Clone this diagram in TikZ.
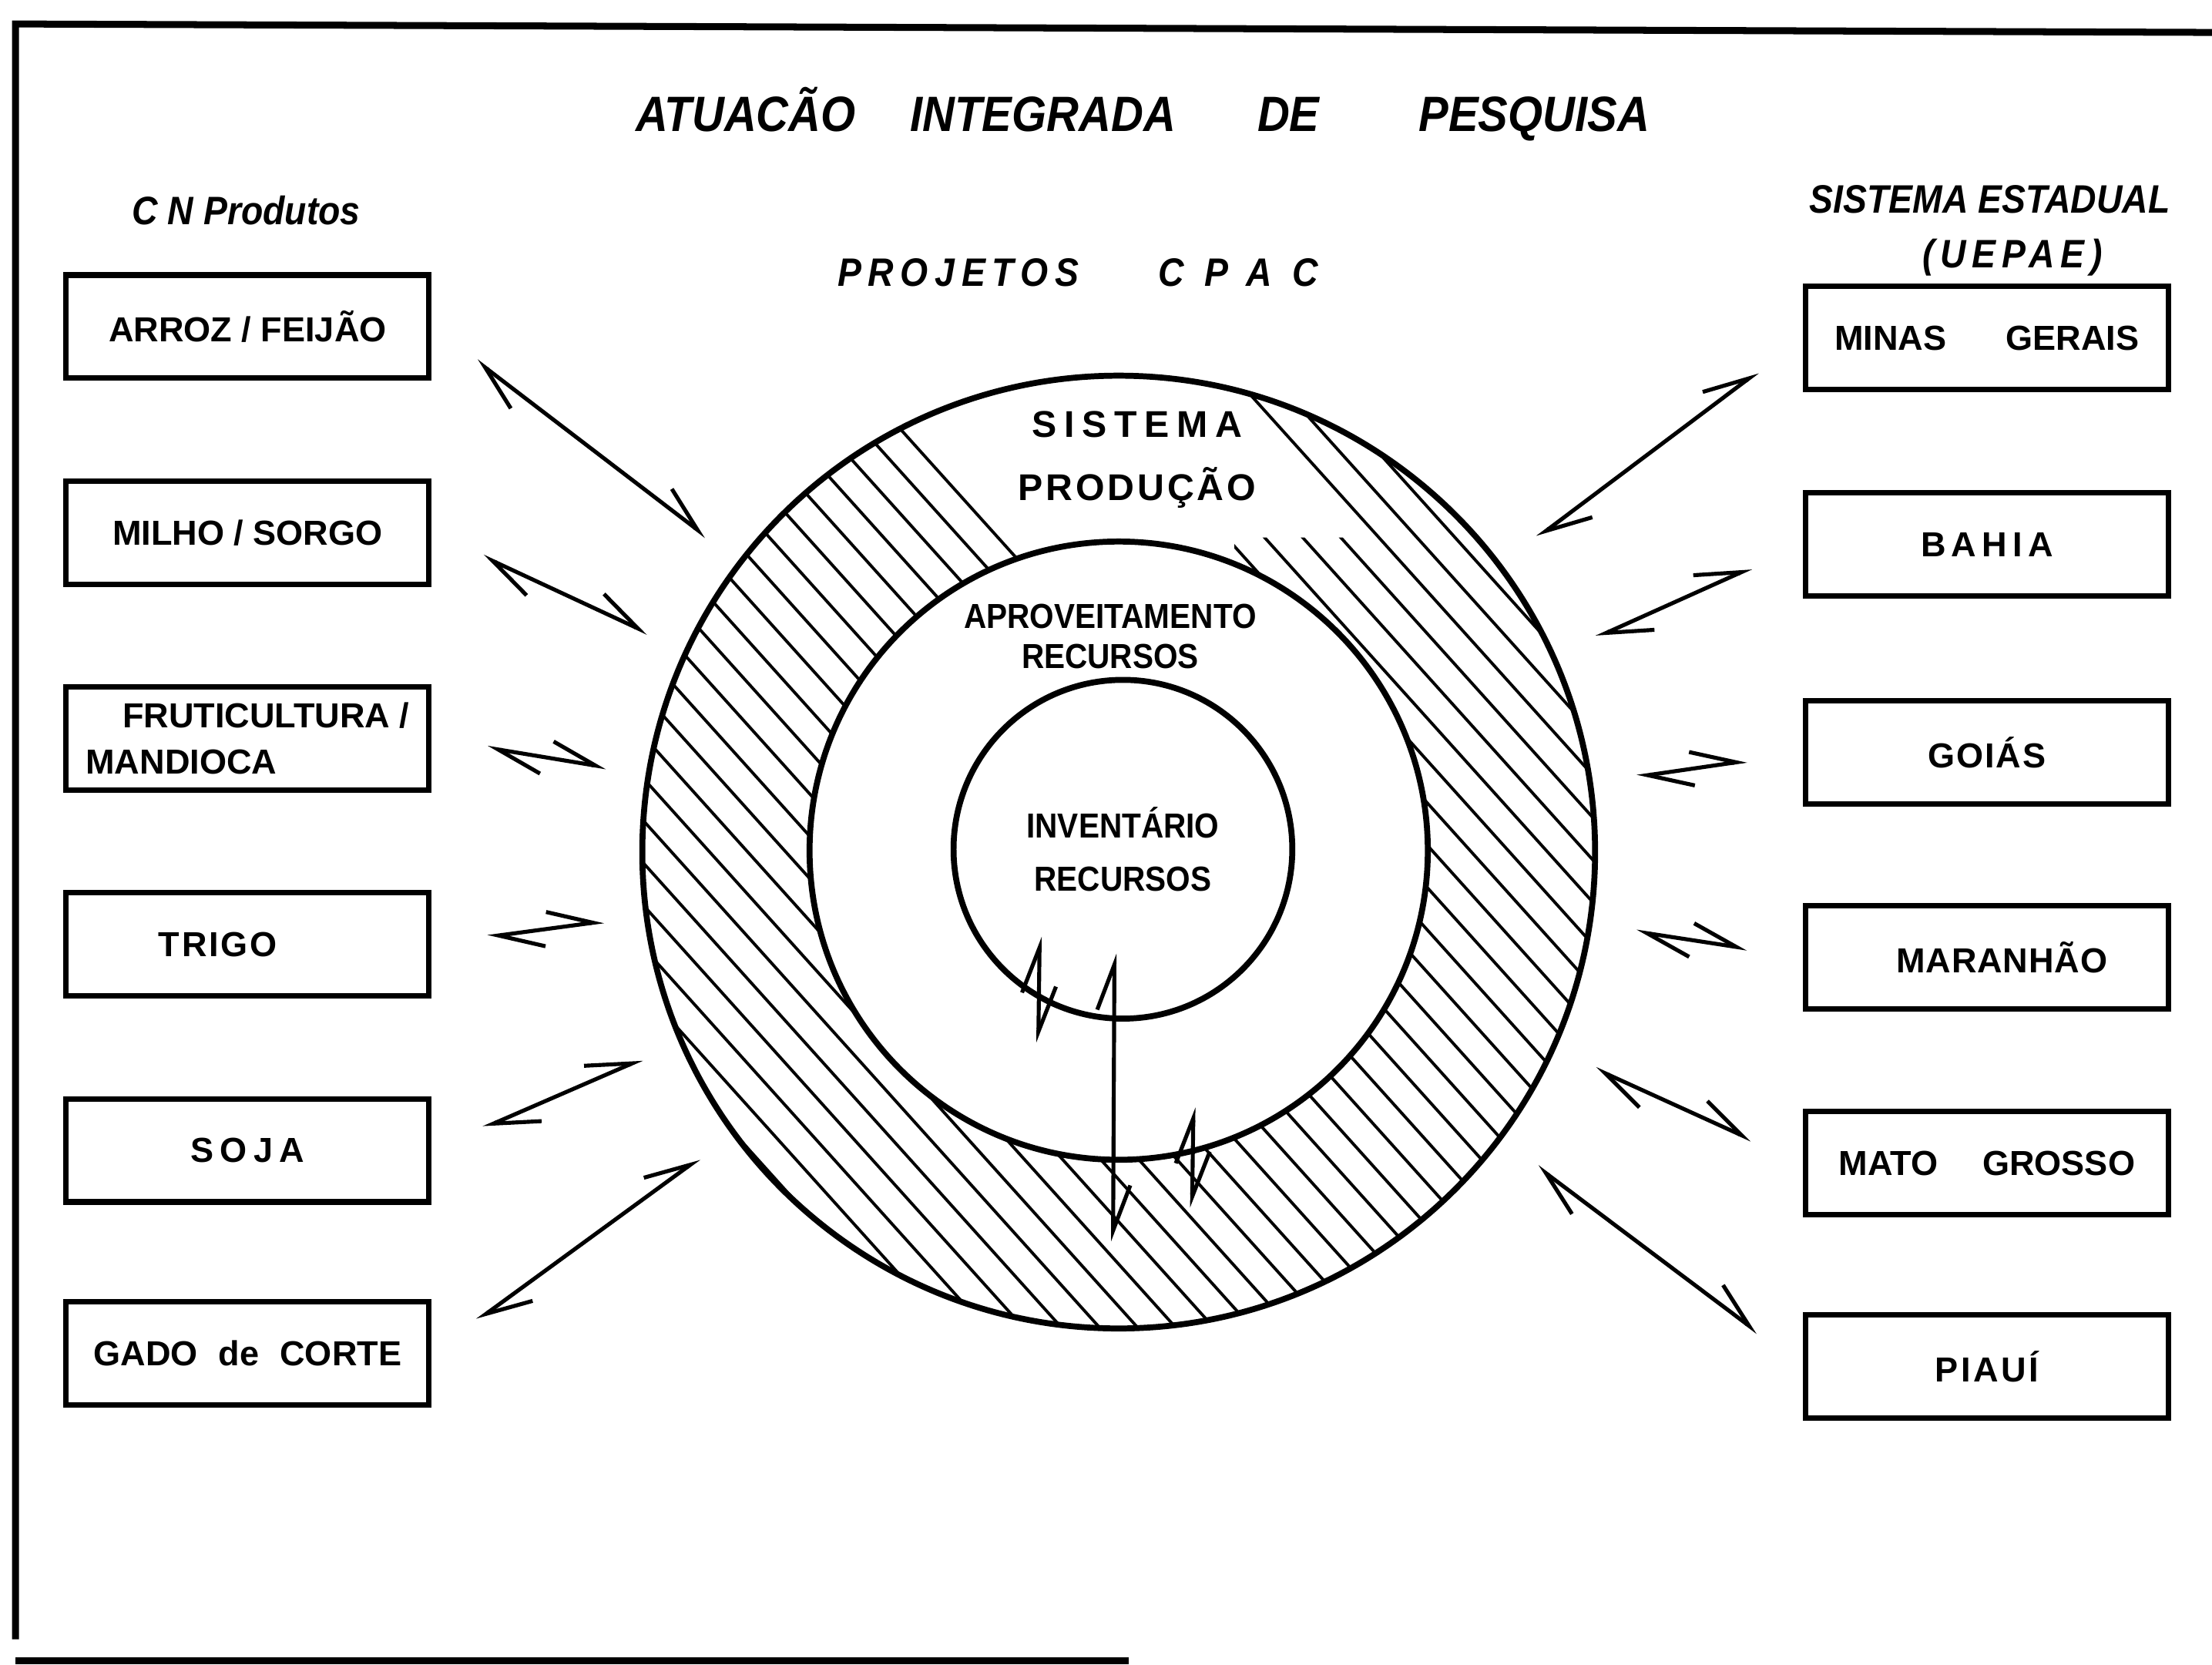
\documentclass[tikz,border=0pt]{standalone}
\usepackage{fontspec}
\setmainfont{Liberation Sans}
\newfontfamily\narrowfont[FakeStretch=0.9]{Liberation Sans}
\usepackage{tikz}
\usetikzlibrary{arrows.meta}
\newcommand\tracked[2]{{\addfontfeature{LetterSpace=#1}#2}}

\begin{document}
\begin{tikzpicture}[
  x=0.01cm, y=-0.01cm,
  font=\fontsize{7}{9}\selectfont\bfseries,
  unitBox/.style={draw, line width=1.1pt, minimum width=2.57cm,
                  minimum height=0.73cm, inner sep=0pt, align=center},
  ring/.style={draw, circle, line width=1.2pt, inner sep=0pt},
  ttl/.style={inner sep=0pt, font=\narrowfont\fontsize{8}{10}\selectfont\bfseries\itshape},
  lbl/.style={inner sep=0pt, align=center},
  harr/.style={{Straight Barb[harpoon,length=3.2mm,width=2.4mm]}-{Straight Barb[harpoon,length=3.2mm,width=2.4mm]},
               line width=0.8pt},
  hatch/.style={line width=0.6pt},
  frame/.style={line width=1.4pt},
]
\useasboundingbox (0,0) rectangle (1568,1180);

\draw[frame] (1568,23) -- (11,17) -- (11,1162);
\draw[frame] (11,1177) -- (800,1177);

\node[inner sep=0pt, anchor=base west,
      font=\narrowfont\fontsize{10}{12}\selectfont\bfseries\itshape] (title) at (450,93)
  {ATUACÃO\hspace{11pt}INTEGRADA\hspace{16.5pt}DE\hspace{20pt}PESQUISA};
\node[ttl, anchor=base west] (cnlbl) at (93,159) {C N Produtos};
\node[ttl, anchor=base west] (selbl) at (1282,151) {SISTEMA ESTADUAL};
\node[ttl, anchor=base west] (uepae) at (1362,190) {\tracked{15}{(UEPAE)}};
\node[ttl, anchor=base west] (cpac) at (593,203) {\tracked{17}{PROJETOS}\hspace{16pt}\tracked{52}{CPAC}};

% produtos
\node[unitBox] (arroz) at (175.5,231.5) {ARROZ / FEIJÃO};
\node[unitBox] (milho) at (175.5,377.5) {MILHO / SORGO};
\node[unitBox, align=left, font=\fontsize{7}{9.4}\selectfont\bfseries] (fruti) at (175.5,523.5)
  {\hspace*{7.4pt}FRUTICULTURA /\\MANDIOCA};
\node[unitBox] (trigo) at (175.5,669.5) {\tracked{6}{TRIGO}\hspace*{12pt}};
\node[unitBox] (soja) at (175.5,815.5) {\tracked{18}{SOJA}};
\node[unitBox] (gado) at (175.5,959.5) {GADO\hspace{0.6em}de\hspace{0.6em}CORTE};

% estados
\node[unitBox] (minas) at (1408.5,239.5) {MINAS\hspace{12pt}GERAIS};
\node[unitBox] (bahia) at (1408.5,386) {\tracked{16}{BAHIA}};
\node[unitBox] (goias) at (1408.5,533.5) {\tracked{4}{GOIÁS}};
\node[unitBox] (maranhao) at (1408.5,678.5) {\hspace*{6pt}\tracked{2}{MARANHÃO}};
\node[unitBox] (mato) at (1408.5,824.5) {MATO\hspace{9pt}GROSSO};
\node[unitBox] (piaui) at (1408.5,968.5) {\tracked{8}{PIAUÍ}};

% circulos
\node[ring, minimum size=6.75cm] (outer) at (793,604) {};
\node[ring, minimum size=4.38cm] (mid) at (793,603) {};
\node[ring, minimum size=2.4cm, align=center, font=\narrowfont\fontsize{7}{10.8}\selectfont\bfseries] (inv) at (796,602)
  {INVENTÁRIO\\RECURSOS};

\begin{scope}
  \clip (outer.center) circle (3.375cm);
  \begin{scope}[even odd rule]
    \clip (0,0) rectangle (1568,1180) (mid.center) circle (2.19cm)
      (722,394) -- (760,384.5) -- (793,382) -- (830,385) -- (875,397.5)
      -- (875,381) -- (976,381) -- (768,150) -- (501,150) -- cycle;
    \foreach \k in {-30,...,30}
      \draw[hatch] (720+27*\k-139.5,240) -- (720+27*\k+508.5,960);
  \end{scope}
\end{scope}

\node[lbl, font=\fontsize{7.5}{12.8}\selectfont\bfseries] (sispro) at (806,326)
  {\tracked{20}{SISTEMA}\\\tracked{8}{PRODUÇÃO}};
\node[lbl, font=\narrowfont\fontsize{7}{8}\selectfont\bfseries] (aprov) at (787,451)
  {APROVEITAMENTO\\RECURSOS};

\coordinate (va1) at (737,664);
\coordinate (va2) at (736,739);
\coordinate (vb1) at (790,676);
\coordinate (vb2) at (789,880);
\coordinate (vc1) at (846,785);
\coordinate (vc2) at (845,856);

\foreach \n in {arroz,milho,fruti,trigo,soja,gado}
  \draw[harr, shorten <=0.4cm, shorten >=3.68cm] (\n.east) -- (outer.center);
\foreach \n in {minas,bahia,goias,maranhao,mato,piaui}
  \draw[harr, shorten <=0.4cm, shorten >=3.71cm] (\n.west) -- (outer.center);

\draw[harr] (va2) -- (va1);
\draw[harr] (vb2) -- (vb1);
\draw[harr] (vc2) -- (vc1);
\end{tikzpicture}
\end{document}
